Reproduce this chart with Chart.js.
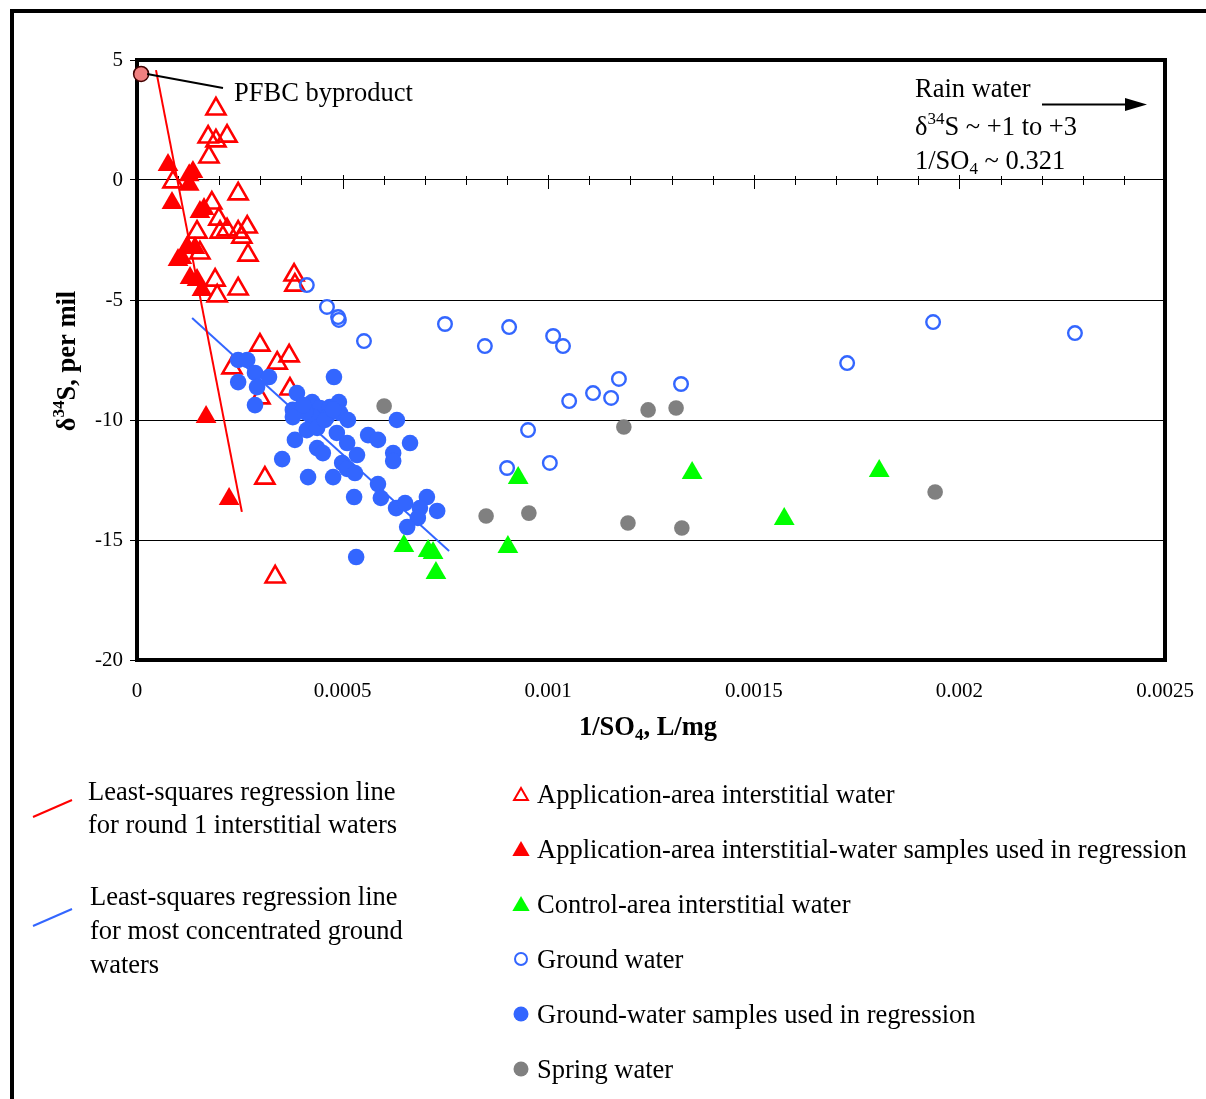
<!DOCTYPE html>
<html>
<head>
<meta charset="utf-8">
<script src="https://cdn.jsdelivr.net/npm/chart.js@4"></script>
<style>
html,body{margin:0;padding:0;background:#fff;}
#wrap{width:1206px;height:1099px;}
</style>
</head>
<body>
<div id="wrap"><canvas id="c" width="1206" height="1099"></canvas></div>
<script>
// ---------- DATA (x = 1/SO4 in L/mg, y = delta34S per mil) ----------
const xTickLabels = ['0', '0.0005', '0.001', '0.0015', '0.002', '0.0025'];

const appAreaX = [0.000192,0.000173,0.000192,0.000219,0.000175,0.0000875,0.000246,0.000182,0.000199,0.000202,0.000219,0.000246,0.000268,0.000146,0.000255,0.000153,0.000270,0.000190,0.000246,0.000195,0.000382,0.000384,0.000299,0.000231,0.000341,0.000370,0.000372,0.000299,0.000311,0.000336];
const appAreaY = [2.96,1.79,1.63,1.83,0.96,-0.08,-0.58,-0.96,-1.63,-2.17,-2.08,-2.17,-1.96,-2.17,-2.38,-3.04,-3.13,-4.17,-4.54,-4.83,-3.96,-4.38,-6.88,-7.83,-7.63,-7.33,-8.71,-9.08,-12.42,-16.54];

const appRegX = [0.0000754,0.000136,0.000127,0.000127,0.0000851,0.000153,0.000163,0.000122,0.000141,0.0000997,0.000109,0.000129,0.000146,0.000158,0.000168,0.000224];
const appRegY = [0.63,0.33,0.2,-0.2,-0.96,-1.33,-1.21,-2.79,-2.83,-3.33,-3.25,-4.08,-4.17,-4.58,-9.88,-13.29];

const controlX = [0.000649,0.000708,0.000720,0.000727,0.000927,0.000902,0.001350,0.001805,0.001574];
const controlY = [-15.25,-15.46,-15.54,-16.38,-12.42,-15.29,-12.21,-12.13,-14.13];

const groundX = [0.000413,0.000462,0.000489,0.000491,0.000552,0.000749,0.000846,0.000905,0.001012,0.001036,0.001172,0.001109,0.001153,0.001051,0.001323,0.000951,0.001004,0.000900,0.001727,0.001936,0.002281];
const groundY = [-4.38,-5.29,-5.71,-5.83,-6.71,-6.0,-6.92,-6.13,-6.5,-6.92,-8.29,-8.88,-9.08,-9.21,-8.5,-10.42,-11.79,-12.0,-7.63,-5.92,-6.38];

const groundRegX = [0.000246,0.000268,0.000287,0.000246,0.000292,0.000321,0.000287,0.000479,0.000389,0.000379,0.000426,0.000445,0.000469,0.000491,0.000379,0.000428,0.000462,0.000494,0.000513,0.000413,0.000384,0.000438,0.000486,0.000511,0.000562,0.000586,0.000632,0.000664,0.000438,0.000452,0.000535,0.000623,0.000623,0.000353,0.000499,0.000511,0.000530,0.000416,0.000477,0.000586,0.000528,0.000593,0.000705,0.000730,0.000630,0.000652,0.000688,0.000683,0.000657,0.000533,0.000409,0.000457,0.000477,0.000404];
const groundRegY = [-7.5,-7.5,-8.04,-8.42,-8.63,-8.21,-9.38,-8.21,-8.88,-9.58,-9.25,-9.5,-9.46,-9.25,-9.88,-9.88,-9.88,-9.71,-10.0,-10.42,-10.83,-10.33,-10.54,-10.96,-10.63,-10.83,-10.0,-10.96,-11.17,-11.38,-11.46,-11.38,-11.71,-11.63,-11.79,-12.04,-12.21,-12.38,-12.38,-12.67,-13.21,-13.25,-13.21,-13.79,-13.67,-13.46,-13.67,-14.08,-14.46,-15.71,-9.67,-10.0,-9.58,-9.38];

const springX = [0.000601,0.001243,0.001311,0.001184,0.000849,0.000953,0.001194,0.001325,0.001941];
const springY = [-9.42,-9.58,-9.5,-10.29,-14.0,-13.88,-14.29,-14.5,-13.0];

const pfbcX = [0.00001];
const pfbcY = [4.42];

const redLineX = [0.0000462, 0.000255];
const redLineY = [4.58, -13.83];
const blueLineX = [0.000134, 0.000759];
const blueLineY = [-5.75, -15.46];

// ---------- helpers ----------
function pts(xs, ys){ return xs.map((x,i)=>({x:x, y:ys[i]})); }
const FONT = '"Liberation Serif", "Times New Roman", serif';
const RED = '#ff0000', GREEN = '#00ff00', BLUE = '#3366ff', GRAY = '#808080';
const TXT = 26.5;

function drawRich(ctx, parts, x, y, size, bold){
  let cx = x;
  ctx.textBaseline = 'middle';
  ctx.textAlign = 'left';
  parts.forEach(p=>{
    const t = p[0], m = p[1];
    const s = m ? Math.round(size*0.65) : size;
    ctx.font = (bold?'bold ':'') + s + 'px ' + FONT;
    let dy = 0;
    if (m === 'sup') dy = -size*0.32;
    if (m === 'sub') dy = size*0.28;
    ctx.fillText(t, cx, y + dy);
    cx += ctx.measureText(t).width;
  });
  return cx - x;
}
function richWidth(ctx, parts, size, bold){
  let w = 0;
  parts.forEach(p=>{
    const s = p[1] ? Math.round(size*0.65) : size;
    ctx.font = (bold?'bold ':'') + s + 'px ' + FONT;
    w += ctx.measureText(p[0]).width;
  });
  return w;
}
function tri(ctx, x, y, r, fill, color){
  ctx.beginPath();
  ctx.moveTo(x, y - r);
  ctx.lineTo(x + r*0.866, y + r*0.5);
  ctx.lineTo(x - r*0.866, y + r*0.5);
  ctx.closePath();
  if (fill){ ctx.fillStyle = color; ctx.fill(); }
  else { ctx.strokeStyle = color; ctx.lineWidth = 2; ctx.stroke(); }
}
function circ(ctx, x, y, r, fill, color){
  ctx.beginPath();
  ctx.arc(x, y, r, 0, Math.PI*2);
  if (fill){ ctx.fillStyle = color; ctx.fill(); }
  else { ctx.strokeStyle = color; ctx.lineWidth = 2; ctx.stroke(); }
}

const decor = {
  id: 'decor',
  beforeDatasetsDraw(chart){
    const ctx = chart.ctx, a = chart.chartArea;
    const xs = chart.scales.x, ys = chart.scales.y;
    ctx.save();
    const y0 = ys.getPixelForValue(0);
    ctx.strokeStyle = '#000'; ctx.lineWidth = 1;
    for (let i = 1; i < 25; i++){
      const px = Math.round(xs.getPixelForValue(i*0.0001)) + 0.5;
      const major = (i % 5 === 0);
      ctx.beginPath();
      ctx.moveTo(px, y0 - (major ? 5 : 4));
      ctx.lineTo(px, y0 + (major ? 9 : 5));
      ctx.stroke();
    }
    ctx.strokeStyle = '#000'; ctx.lineWidth = 4;
    ctx.strokeRect(a.left, a.top, a.right - a.left, a.bottom - a.top);
    ctx.restore();
  },
  afterDraw(chart){
    const ctx = chart.ctx;
    const xs = chart.scales.x, ys = chart.scales.y;
    ctx.save();
    ctx.fillStyle = '#000';
    ctx.fillRect(10, 9, 1196, 4);
    ctx.fillRect(10, 9, 4, 1090);

    const px = xs.getPixelForValue(pfbcX[0]), py = ys.getPixelForValue(pfbcY[0]);
    ctx.strokeStyle = '#000'; ctx.lineWidth = 2;
    ctx.beginPath(); ctx.moveTo(px + 6, py); ctx.lineTo(223, 88); ctx.stroke();
    drawRich(ctx, [['PFBC byproduct']], 234, 94, TXT, false);

    drawRich(ctx, [['Rain water']], 915, 90, TXT, false);
    drawRich(ctx, [['δ'],['34','sup'],['S ~ +1 to +3']], 915, 128, TXT, false);
    drawRich(ctx, [['1/SO'],['4','sub'],[' ~ 0.321']], 915, 162, TXT, false);
    ctx.strokeStyle = '#000'; ctx.lineWidth = 2;
    ctx.beginPath(); ctx.moveTo(1042, 104.5); ctx.lineTo(1128, 104.5); ctx.stroke();
    ctx.beginPath(); ctx.moveTo(1147, 104.5); ctx.lineTo(1125, 98); ctx.lineTo(1125, 111); ctx.closePath(); ctx.fill();

    ctx.fillStyle = '#000';
    const xt = [['1/SO'],['4','sub'],[', L/mg']];
    const xw = richWidth(ctx, xt, TXT, true);
    drawRich(ctx, xt, 648 - xw/2, 728, TXT, true);
    ctx.save();
    ctx.translate(68, 361);
    ctx.rotate(-Math.PI/2);
    const yt = [['δ'],['34','sup'],['S, per mil']];
    const yw = richWidth(ctx, yt, TXT, true);
    drawRich(ctx, yt, -yw/2, 0, TXT, true);
    ctx.restore();

    ctx.lineWidth = 2;
    ctx.strokeStyle = RED;
    ctx.beginPath(); ctx.moveTo(33, 817); ctx.lineTo(72, 800); ctx.stroke();
    ctx.strokeStyle = BLUE;
    ctx.beginPath(); ctx.moveTo(33, 926); ctx.lineTo(72, 909); ctx.stroke();
    ctx.fillStyle = '#000';
    drawRich(ctx, [['Least-squares regression line']], 88, 793, TXT, false);
    drawRich(ctx, [['for round 1 interstitial waters']], 88, 826, TXT, false);
    drawRich(ctx, [['Least-squares regression line']], 90, 898, TXT, false);
    drawRich(ctx, [['for most concentrated ground']], 90, 932, TXT, false);
    drawRich(ctx, [['waters']], 90, 966, TXT, false);

    const rows = [
      ['Application-area interstitial water', 'tri', false, RED],
      ['Application-area interstitial-water samples used in regression', 'tri', true, RED],
      ['Control-area interstitial water', 'tri', true, GREEN],
      ['Ground water', 'circ', false, BLUE],
      ['Ground-water samples used in regression', 'circ', true, BLUE],
      ['Spring water', 'circ', true, GRAY]
    ];
    rows.forEach((r, i)=>{
      const yy = 794 + i*55;
      if (r[1] === 'tri') tri(ctx, 521, yy + 2, r[2] ? 10 : 8, r[2], r[3]);
      else circ(ctx, 521, yy, r[2] ? 7.5 : 6, r[2], r[3]);
      ctx.fillStyle = '#000';
      drawRich(ctx, [[r[0]]], 537, yy + 2, TXT, false);
    });
    ctx.restore();
  }
};

new Chart(document.getElementById('c'), {
  type: 'scatter',
  data: {
    datasets: [
      { label: 'Least-squares regression line for round 1 interstitial waters', data: pts(redLineX, redLineY), showLine: true, borderColor: RED, borderWidth: 2, pointRadius: 0, fill: false },
      { label: 'Least-squares regression line for most concentrated ground waters', data: pts(blueLineX, blueLineY), showLine: true, borderColor: BLUE, borderWidth: 2, pointRadius: 0, fill: false },
      { label: 'Spring water', data: pts(springX, springY), pointStyle: 'circle', pointRadius: 7.8, backgroundColor: GRAY, borderColor: GRAY, borderWidth: 0 },
      { label: 'Control-area interstitial water', data: pts(controlX, controlY), pointStyle: 'triangle', pointRadius: 12, backgroundColor: GREEN, borderColor: GREEN, borderWidth: 0 },
      { label: 'Ground water', data: pts(groundX, groundY), pointStyle: 'circle', pointRadius: 6.8, backgroundColor: 'rgba(255,255,255,0)', borderColor: BLUE, borderWidth: 2.4 },
      { label: 'Ground-water samples used in regression', data: pts(groundRegX, groundRegY), pointStyle: 'circle', pointRadius: 8.3, backgroundColor: BLUE, borderColor: BLUE, borderWidth: 0 },
      { label: 'Application-area interstitial water', data: pts(appAreaX, appAreaY), pointStyle: 'triangle', pointRadius: 11, backgroundColor: 'rgba(255,255,255,0)', borderColor: RED, borderWidth: 2.6 },
      { label: 'Application-area interstitial-water samples used in regression', data: pts(appRegX, appRegY), pointStyle: 'triangle', pointRadius: 12, backgroundColor: RED, borderColor: RED, borderWidth: 0 },
      { label: 'PFBC byproduct', data: pts(pfbcX, pfbcY), pointStyle: 'circle', pointRadius: 7.5, backgroundColor: '#f08080', borderColor: '#400000', borderWidth: 1.5, clip: false }
    ]
  },
  options: {
    responsive: false,
    animation: false,
    events: [],
    layout: { padding: { left: 0, top: 60, right: 41, bottom: 379 } },
    plugins: { legend: { display: false }, tooltip: { enabled: false } },
    scales: {
      x: {
        type: 'linear', min: 0, max: 0.0025,
        grid: { display: false },
        border: { display: false },
        ticks: {
          stepSize: 0.0005,
          padding: 11,
          color: '#000',
          font: { family: FONT, size: 21 },
          callback: function(v, i){ return xTickLabels[i]; }
        },
        afterFit: function(s){ s.height = 60; s.paddingLeft = 0; s.paddingRight = 0; s.paddingTop = 0; s.paddingBottom = 0; }
      },
      y: {
        type: 'linear', min: -20, max: 5,
        grid: { color: '#000', lineWidth: 1, drawTicks: true, tickLength: 7, tickColor: '#000' },
        border: { display: false },
        ticks: {
          stepSize: 5,
          padding: 7,
          color: '#000',
          font: { family: FONT, size: 21 }
        },
        afterFit: function(s){ s.width = 137; s.paddingTop = 0; s.paddingBottom = 0; s.paddingLeft = 0; s.paddingRight = 0; }
      }
    }
  },
  plugins: [decor]
});
</script>
</body>
</html>
